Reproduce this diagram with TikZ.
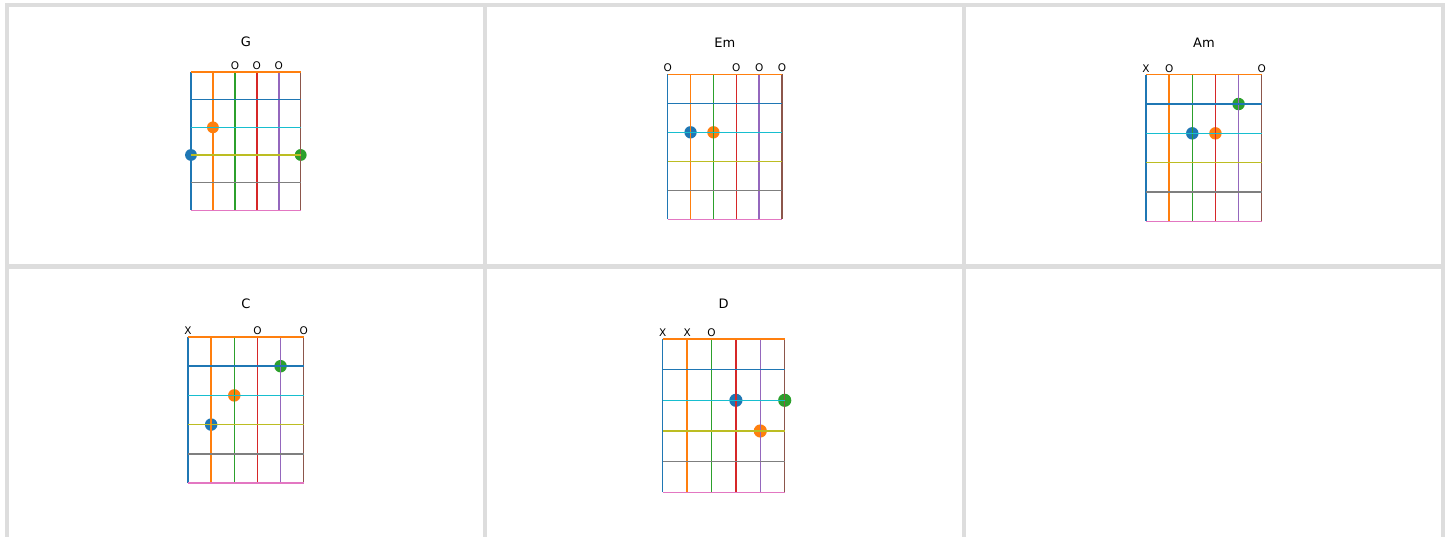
\documentclass[tikz,border=0pt]{standalone}
\usepackage{fontspec}
\setmainfont{DejaVu Sans}
\definecolor{tabblue}{HTML}{1F77B4}
\definecolor{taborange}{HTML}{FF7F0E}
\definecolor{tabgreen}{HTML}{2CA02C}
\definecolor{tabred}{HTML}{D62728}
\definecolor{tabpurple}{HTML}{9467BD}
\definecolor{tabbrown}{HTML}{8C564B}
\definecolor{tabpink}{HTML}{E377C2}
\definecolor{tabgray}{HTML}{7F7F7F}
\definecolor{tabolive}{HTML}{BCBD22}
\definecolor{tabcyan}{HTML}{17BECF}
\definecolor{panelborder}{HTML}{DDDDDD}
\tikzset{
  gridline/.style={line width=1.5pt},
  chordtitle/.style={inner sep=0pt, font=\fontsize{13}{15}\selectfont},
  openmark/.style={inner sep=0pt, font=\fontsize{10.5}{12}\selectfont},
  frame/.style={draw=panelborder, line width=4.5pt},
}
% #1 left, #2 top, #3 dx, #4 dy
\newcommand\fretgrid[4]{%
  \foreach \i/\col in {0/tabblue,1/taborange,2/tabgreen,3/tabred,4/tabpurple,5/tabbrown}{%
    \draw[gridline,draw=\col] ({#1+\i*#3},#2) -- ({#1+\i*#3},{#2+5*#4});}%
  \foreach \j/\col in {5/tabpink,4/tabgray,3/tabolive,2/tabcyan,1/tabblue,0/taborange}{%
    \draw[gridline,draw=\col] (#1,{#2+\j*#4}) -- ({#1+5*#3},{#2+\j*#4});}%
}
% #1 left, #2 top, #3 dx, #4 dy, #5 list string/fret/color
\newcommand\fingerdots[5]{%
  \foreach \s/\f/\col in {#5}{%
    \fill[fill=\col] ({#1+\s*#3},{#2+\f*#4}) circle ({0.27*#3});}%
}
% #1 left, #2 top, #3 dx, #4 name prefix, #5 list string/mark
\newcommand\openmarks[5]{%
  \foreach \s/\m in {#5}{%
    \node[openmark] (#4-\s) at ({#1+\s*#3},{#2-6.5}) {\m};}%
}
\begin{document}
\begin{tikzpicture}[x=1pt,y=-1pt]
\useasboundingbox (0,0) rectangle (1454,537);
\clip (0,0) rectangle (1454,537);
\fill[white] (0,0) rectangle (1454,537);
% panel frames
\draw[frame] (7,600) -- (7,5) -- (1443,5) -- (1443,600);
\draw[frame] (485,5) -- (485,600);
\draw[frame] (964,5) -- (964,600);
\draw[frame] (7,266.5) -- (1443,266.5);

% G
\fingerdots{191}{72}{21.94}{27.66}{1/2/taborange,0/3/tabblue,5/3/tabgreen}
\fretgrid{191}{72}{21.94}{27.66}
\node[chordtitle] (tG) at (245.9,41.7) {G};
\openmarks{191}{72}{21.94}{mG}{2/O,3/O,4/O}

% Em
\fingerdots{667.7}{74.3}{22.86}{29}{1/2/tabblue,2/2/taborange}
\fretgrid{667.7}{74.3}{22.86}{29}
\node[chordtitle] (tEm) at (724.9,42.3) {Em};
\openmarks{667.7}{74.3}{22.86}{mEm}{0/O,3/O,4/O,5/O}

% Am
\fingerdots{1146}{74.7}{23.14}{29.32}{4/1/tabgreen,2/2/tabblue,3/2/taborange}
\fretgrid{1146}{74.7}{23.14}{29.32}
\node[chordtitle] (tAm) at (1203.9,42.3) {Am};
\openmarks{1146}{74.7}{23.14}{mAm}{0/X,1/O,5/O}

% C
\fingerdots{188}{337}{23.14}{29.2}{4/1/tabgreen,2/2/taborange,1/3/tabblue}
\fretgrid{188}{337}{23.14}{29.2}
\node[chordtitle] (tC) at (245.9,304) {C};
\openmarks{188}{337}{23.14}{mC}{0/X,3/O,5/O}

% D
\fingerdots{662.7}{339}{24.4}{30.66}{3/2/tabblue,5/2/tabgreen,4/3/taborange}
\fretgrid{662.7}{339}{24.4}{30.66}
\node[chordtitle] (tD) at (723.7,304) {D};
\openmarks{662.7}{339}{24.4}{mD}{0/X,1/X,2/O}
\end{tikzpicture}
\end{document}
